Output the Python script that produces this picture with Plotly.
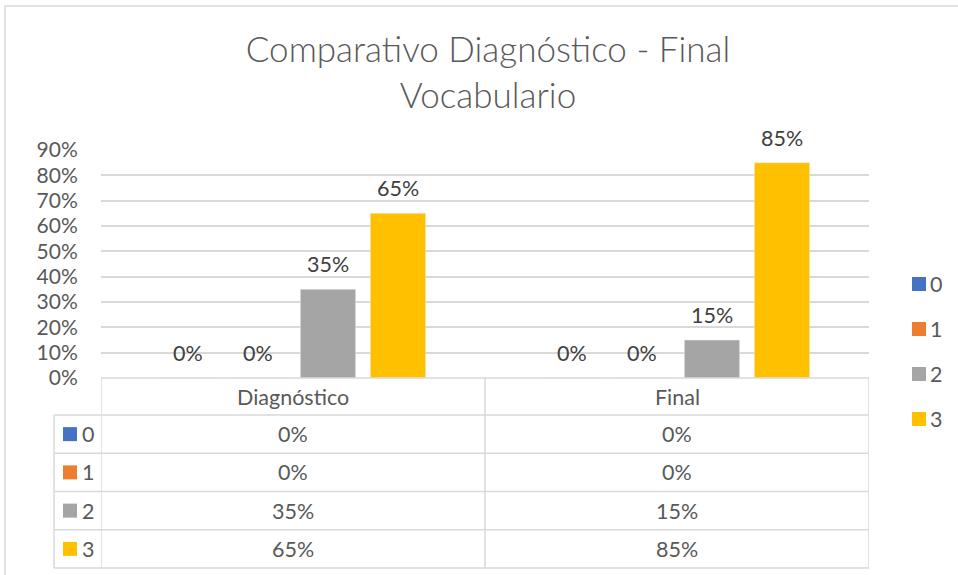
import plotly.graph_objects as go

# ---------------- data ----------------
categories = ["Diagnóstico", "Final"]
series_names = ["0", "1", "2", "3"]
serie_0 = [0.00, 0.00]
serie_1 = [0.00, 0.00]
serie_2 = [0.35, 0.15]
serie_3 = [0.65, 0.85]
series_values = [serie_0, serie_1, serie_2, serie_3]
y_ticks = [0.0, 0.1, 0.2, 0.3, 0.4, 0.5, 0.6, 0.7, 0.8, 0.9]
title_text = "Comparativo Diagnóstico - Final<br>Vocabulario"

# ---------------- style ----------------
colors = ["#4472C4", "#ED7D31", "#A5A5A5", "#FFC000"]
FONT = "Lato"
TXT = "#595959"
LBL = "#404040"
GRID = "#D9D9D9"
W, H = 958, 575
BARGAP = 0.271
BARGROUPGAP = 0.21


def px(x):
    return x / W


def py(y):
    return 1 - y / H


PLOT_L, PLOT_R, PLOT_T, PLOT_B = 101, 869, 150, 378
TABLE_LEFT = 54
HEADER_B = 415
ROW_H = 38.25
LEG_X, LEG_Y0, LEG_DY = 912, 284, 45

fig = go.Figure()
for name, vals, col in zip(series_names, series_values, colors):
    fig.add_trace(go.Bar(
        x=categories, y=vals, name=name, marker_color=col,
        hoverinfo="skip", showlegend=False,
    ))

annotations = []
shapes = []

# data labels above the bars
n = len(series_values)
grp = 1 - BARGAP
for i, vals in enumerate(series_values):
    for j, v in enumerate(vals):
        xpos = j - grp / 2 + (i + 0.5) * grp / n
        annotations.append(dict(
            x=xpos, y=v, xref="x", yref="y", text=f"{v:.0%}",
            showarrow=False, yanchor="middle", yshift=25,
            font=dict(family=FONT, size=21.5, color=LBL),
        ))

# data table below the plot
line = dict(color=GRID, width=1.5)
n_rows = len(series_names)
row_edges = [HEADER_B + k * ROW_H for k in range(n_rows + 1)]
shapes.append(dict(type="line", xref="paper", yref="paper",
                   x0=px(PLOT_L), x1=px(PLOT_R), y0=py(PLOT_B), y1=py(PLOT_B), line=line))
for ye in row_edges:
    shapes.append(dict(type="line", xref="paper", yref="paper",
                       x0=px(TABLE_LEFT), x1=px(PLOT_R), y0=py(ye), y1=py(ye), line=line))
for k in range(len(categories) + 1):
    shapes.append(dict(type="line", xref="x", yref="paper",
                       x0=k - 0.5, x1=k - 0.5, y0=py(PLOT_B), y1=py(row_edges[-1]), line=line))
shapes.append(dict(type="line", xref="paper", yref="paper",
                   x0=px(TABLE_LEFT), x1=px(TABLE_LEFT), y0=py(HEADER_B), y1=py(row_edges[-1]), line=line))

for cat in categories:
    annotations.append(dict(
        x=cat, xref="x", y=py((PLOT_B + HEADER_B) / 2), yref="paper", text=cat,
        showarrow=False, yanchor="middle", font=dict(family=FONT, size=21.5, color=TXT),
    ))
for r, (name, vals, col) in enumerate(zip(series_names, series_values, colors)):
    yc = (row_edges[r] + row_edges[r + 1]) / 2
    shapes.append(dict(type="rect", xref="paper", yref="paper",
                       x0=px(63), x1=px(77), y0=py(yc - 7), y1=py(yc + 7),
                       fillcolor=col, line=dict(width=0)))
    annotations.append(dict(
        x=px(80), xref="paper", y=py(yc), yref="paper", text=name, xanchor="left",
        showarrow=False, yanchor="middle", font=dict(family=FONT, size=21.5, color=TXT),
    ))
    for cat, v in zip(categories, vals):
        annotations.append(dict(
            x=cat, xref="x", y=py(yc), yref="paper", text=f"{v:.0%}",
            showarrow=False, yanchor="middle", font=dict(family=FONT, size=21.5, color=TXT),
        ))

# legend on the right (drawn from the series lists)
for r, (name, col) in enumerate(zip(series_names, colors)):
    yc = LEG_Y0 + r * LEG_DY
    shapes.append(dict(type="rect", xref="paper", yref="paper",
                       x0=px(LEG_X), x1=px(LEG_X + 14), y0=py(yc - 7), y1=py(yc + 7),
                       fillcolor=col, line=dict(width=0)))
    annotations.append(dict(
        x=px(LEG_X + 16), xref="paper", y=py(yc), yref="paper", text=name, xanchor="left",
        showarrow=False, yanchor="middle", font=dict(family=FONT, size=21.5, color=TXT),
    ))

# chart border
shapes.append(dict(type="rect", xref="paper", yref="paper",
                   x0=px(5), x1=1.02, y0=-0.02, y1=py(6),
                   line=dict(color=GRID, width=1.5), layer="below"))

fig.update_layout(
    width=W, height=H,
    margin=dict(l=0, r=0, t=0, b=0, autoexpand=False),
    paper_bgcolor="white", plot_bgcolor="white",
    barmode="group", bargap=BARGAP, bargroupgap=BARGROUPGAP,
    title=dict(text=title_text, x=px(488), xanchor="center", y=py(62), yanchor="middle",
               font=dict(family=FONT, size=35, color=TXT, weight=300)),
    xaxis=dict(domain=[px(PLOT_L), px(PLOT_R)], range=[-0.5, len(categories) - 0.5],
               showticklabels=False, showgrid=False, zeroline=False, showline=False),
    yaxis=dict(domain=[py(PLOT_B), py(PLOT_T)], range=[0, 0.9],
               tickvals=y_ticks, tickformat=".0%", gridcolor=GRID, gridwidth=1.5,
               zeroline=False, showline=False,
               ticks="outside", ticklen=18, tickcolor="rgba(0,0,0,0)",
               tickfont=dict(family=FONT, size=21, color=TXT)),
    annotations=annotations,
    shapes=shapes,
    showlegend=False,
)

fig.write_html(
    "out.html",
    config={"displayModeBar": False},
    post_script="document.body.style.margin='0';document.body.style.overflow='hidden';",
)
